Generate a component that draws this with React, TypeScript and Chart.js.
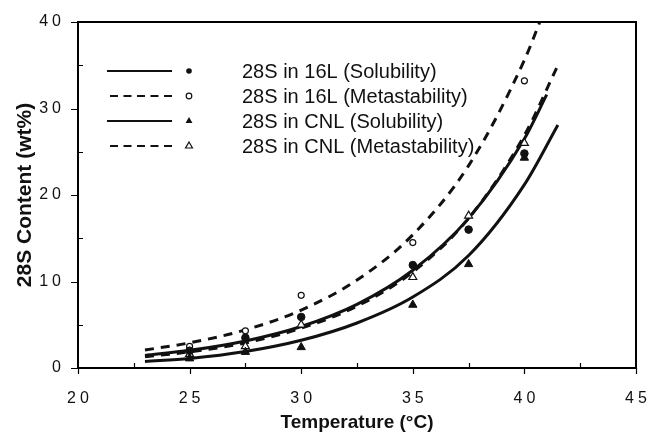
import React, { useEffect, useRef } from "react";
import { Chart, registerables } from "chart.js";

Chart.register(...registerables);

// ---- Data ----
// fitted curves (sampled along each drawn curve)
const curveTemp16LSol = [23, 25, 27.5, 30, 32.5, 35, 37.5, 40, 41];
const curve16LSol = [1.45, 2.04, 3.13, 4.8, 7.36, 11.3, 17.3, 26.5, 31.6];
const curveTemp16LMeta = [23, 25, 27.5, 30, 32.5, 35, 37.5, 40, 40.9];
const curve16LMeta = [2.08, 2.91, 4.41, 6.7, 10.17, 15.4, 23.4, 35.6, 41.4];
const curveTempCNL = [23, 25, 27.5, 30, 32.5, 35, 37.5, 40, 41.5];
const curveCNLSol = [0.75, 1.1, 1.9, 3.2, 5.2, 8.2, 13.0, 21.2, 28.1];
const curveCNLMeta = [1.3, 1.87, 2.9, 4.6, 7.15, 11.1, 17.3, 26.9, 35.0];

// measured points
const pointTemps = [25, 27.5, 30, 35, 37.5, 40];
const pts16LSol = [2.0, 3.5, 5.9, 11.9, 16.0, 24.8];
const pts16LMeta: (number | null)[] = [2.5, 4.3, 8.4, 14.5, null, 33.2];
const ptsCNLSol = [1.1, 1.85, 2.4, 7.3, 12.0, 24.3];
const ptsCNLMeta = [1.6, 2.5, 5.0, 10.5, 17.6, 26.0];

const xTicks = [20, 25, 30, 35, 40, 45];
const yTicks = [0, 10, 20, 30, 40];
const xMinorTicks = [22.5, 27.5, 32.5, 37.5, 42.5];
const yMinorTicks = [5, 15, 25, 35];

const legendLabels = [
  "28S in 16L (Solubility)",
  "28S in 16L (Metastability)",
  "28S in CNL (Solubility)",
  "28S in CNL (Metastability)",
];
const legendDashed = [false, true, false, true];
const legendMarkers = ["dot", "ring", "tri", "opentri"];

const xTitle = "Temperature (°C)";
const yTitle = "28S Content (wt%)";

const INK = "#111";
const FONT = "'Liberation Sans', Arial, sans-serif";

function toXY(xs: number[], ys: (number | null)[]) {
  return xs.map((x, i) => ({ x, y: ys[i] as number })).filter((p) => p.y !== null);
}

// draw a label with extra spacing between characters
function spacedText(ctx: CanvasRenderingContext2D, text: string, x: number, y: number, align: "center" | "right", gap: number) {
  const chars = text.split("");
  const widths = chars.map((c) => ctx.measureText(c).width);
  const total = widths.reduce((s, w) => s + w, 0) + gap * (chars.length - 1);
  let cx = align === "center" ? x - total / 2 : x - total;
  ctx.textAlign = "left";
  chars.forEach((c, i) => {
    ctx.fillText(c, cx, y);
    cx += widths[i] + gap;
  });
}

function drawMarker(ctx: CanvasRenderingContext2D, kind: string, x: number, y: number, r: number) {
  ctx.save();
  ctx.setLineDash([]);
  ctx.lineWidth = 1.2;
  ctx.strokeStyle = INK;
  ctx.beginPath();
  if (kind === "dot" || kind === "ring") {
    ctx.arc(x, y, r, 0, Math.PI * 2);
  } else {
    ctx.moveTo(x, y - r);
    ctx.lineTo(x + r * 0.866, y + r * 0.5);
    ctx.lineTo(x - r * 0.866, y + r * 0.5);
    ctx.closePath();
  }
  if (kind === "dot" || kind === "tri") {
    ctx.fillStyle = INK;
    ctx.fill();
  } else {
    ctx.fillStyle = "#fff";
    ctx.fill();
    ctx.stroke();
  }
  ctx.restore();
}

const decorPlugin = {
  id: "decor",
  afterDraw(chart: any) {
    const ctx = chart.ctx as CanvasRenderingContext2D;
    const area = chart.chartArea;
    const xs = chart.scales.x;
    const ys = chart.scales.y;
    const L = area.left;
    const R = area.right;
    const T = area.top;
    const B = area.bottom;

    // frame (same style of call that rendered fine in a test) and tick marks
    ctx.save();
    ctx.setLineDash([]);
    ctx.strokeStyle = "#000";
    ctx.lineWidth = 2;
    ctx.strokeRect(L, T, R - L, B - T);
    ctx.lineWidth = 1.2;
    ctx.beginPath();
    xTicks.forEach((v) => {
      const px = Math.round(xs.getPixelForValue(v)) + 0.5;
      ctx.moveTo(px, B);
      ctx.lineTo(px, B + 6);
    });
    xMinorTicks.forEach((v) => {
      const px = Math.round(xs.getPixelForValue(v)) + 0.5;
      ctx.moveTo(px, B);
      ctx.lineTo(px, B - 5);
    });
    yTicks.forEach((v) => {
      const py = Math.round(ys.getPixelForValue(v)) + 0.5;
      ctx.moveTo(L - 7, py);
      ctx.lineTo(L, py);
    });
    yMinorTicks.forEach((v) => {
      const py = Math.round(ys.getPixelForValue(v)) + 0.5;
      ctx.moveTo(L, py);
      ctx.lineTo(L + 5, py);
    });
    ctx.stroke();
    ctx.restore();

    // tick labels (spaced digits, positioned by the scales)
    ctx.save();
    ctx.fillStyle = INK;
    ctx.font = "16px " + FONT;
    ctx.textBaseline = "middle";
    xTicks.forEach((v) => {
      spacedText(ctx, String(v), xs.getPixelForValue(v), B + 31, "center", 4);
    });
    yTicks.forEach((v) => {
      spacedText(ctx, String(v), L - 17, ys.getPixelForValue(v), "right", 4);
    });
    ctx.restore();

    // axis titles
    ctx.save();
    ctx.fillStyle = INK;
    ctx.textAlign = "center";
    ctx.textBaseline = "middle";
    ctx.font = "bold 19px " + FONT;
    ctx.fillText(xTitle, (L + R) / 2, 423);
    ctx.save();
    ctx.translate(25, (T + B) / 2);
    ctx.rotate(-Math.PI / 2);
    ctx.font = "bold 21px " + FONT;
    ctx.fillText(yTitle, 0, 0);
    ctx.restore();

    // legend
    ctx.font = "20px " + FONT;
    ctx.textAlign = "left";
    legendLabels.forEach((label, i) => {
      const y = 71 + i * 25;
      ctx.save();
      ctx.strokeStyle = INK;
      ctx.lineWidth = legendDashed[i] ? 2 : 2.2;
      ctx.setLineDash(legendDashed[i] ? [8, 5.5] : []);
      ctx.beginPath();
      ctx.moveTo(legendDashed[i] ? 110 : 107, y);
      ctx.lineTo(172, y);
      ctx.stroke();
      ctx.restore();
      const m = legendMarkers[i];
      drawMarker(ctx, m, 189, y, m === "tri" || m === "opentri" ? 4 : 2.8);
      ctx.fillStyle = INK;
      ctx.fillText(label, 242, y + 1);
    });
    ctx.restore();
  },
};

export default function App() {
  const ref = useRef<HTMLCanvasElement | null>(null);

  useEffect(() => {
    if (!ref.current) return;
    const curveStyle = (dashed: boolean) => ({
      showLine: true,
      borderColor: INK,
      borderWidth: 3,
      borderDash: dashed ? [9, 7] : [],
      pointRadius: 0,
      pointHoverRadius: 0,
      cubicInterpolationMode: "monotone" as const,
      fill: false,
    });
    const pointStyle = (style: string, filled: boolean, r: number) => ({
      showLine: false,
      pointStyle: style,
      pointRadius: r,
      pointBackgroundColor: filled ? INK : "#fff",
      pointBorderColor: INK,
      pointBorderWidth: filled ? 1 : 1.2,
      borderColor: INK,
      backgroundColor: filled ? INK : "#fff",
    });

    const chart = new Chart(ref.current, {
      type: "scatter",
      data: {
        datasets: [
          { label: "16L sol pts", data: toXY(pointTemps, pts16LSol), ...pointStyle("circle", true, 3.8) },
          { label: "16L meta pts", data: toXY(pointTemps, pts16LMeta), ...pointStyle("circle", false, 3) },
          { label: "CNL sol pts", data: toXY(pointTemps, ptsCNLSol), ...pointStyle("triangle", true, 4.8) },
          { label: "CNL meta pts", data: toXY(pointTemps, ptsCNLMeta), ...pointStyle("triangle", false, 4.6) },
          { label: "16L sol", data: toXY(curveTemp16LSol, curve16LSol), ...curveStyle(false) },
          { label: "16L meta", data: toXY(curveTemp16LMeta, curve16LMeta), ...curveStyle(true) },
          { label: "CNL sol", data: toXY(curveTempCNL, curveCNLSol), ...curveStyle(false) },
          { label: "CNL meta", data: toXY(curveTempCNL, curveCNLMeta), ...curveStyle(true) },
        ] as any,
      },
      options: {
        animation: false,
        responsive: false,
        maintainAspectRatio: false,
        layout: { padding: { top: 22, right: 16, left: 0, bottom: 0 } },
        plugins: {
          legend: { display: false },
          tooltip: { enabled: false },
        },
        scales: {
          x: {
            type: "linear",
            min: 20,
            max: 45,
            afterBuildTicks: (s: any) => {
              s.ticks = xTicks.map((v) => ({ value: v }));
            },
            afterFit: (s: any) => {
              s.height = 70;
              s.paddingLeft = 0;
              s.paddingRight = 0;
            },
            grid: { display: false, drawTicks: false },
            border: { display: true, color: "#000", width: 2 },
            ticks: { display: false },
          },
          y: {
            type: "linear",
            min: 0,
            max: 40,
            afterBuildTicks: (s: any) => {
              s.ticks = yTicks.map((v) => ({ value: v }));
            },
            afterFit: (s: any) => {
              s.width = 78;
              s.paddingTop = 0;
              s.paddingBottom = 0;
            },
            grid: { display: false, drawTicks: false },
            border: { display: true, color: "#000", width: 2 },
            ticks: { display: false },
          },
        },
      },
      plugins: [decorPlugin as any],
    });
    return () => chart.destroy();
  }, []);

  return (
    <div style={{ position: "absolute", left: 0, top: 0, width: 652, height: 438, background: "#fff" }}>
      <canvas ref={ref} width={652} height={438} style={{ width: 652, height: 438, display: "block" }} />
    </div>
  );
}
